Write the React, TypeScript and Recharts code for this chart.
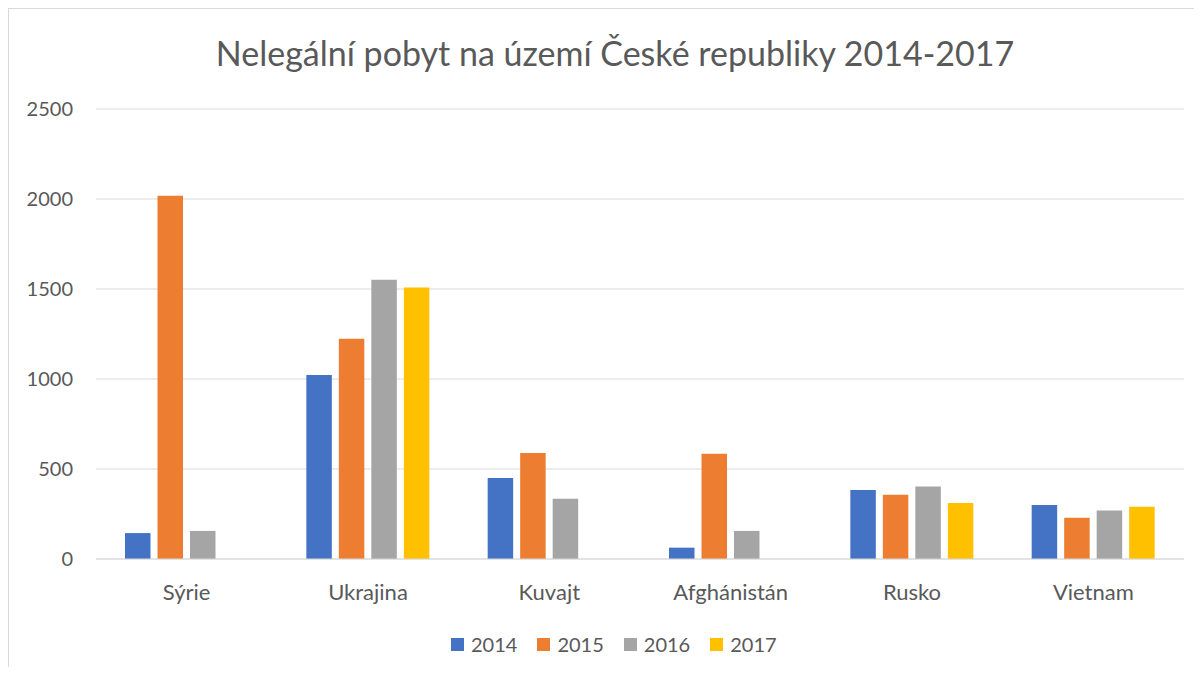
import { BarChart, Bar, XAxis, YAxis, CartesianGrid, Legend } from 'recharts';

const countries = ['Sýrie', 'Ukrajina', 'Kuvajt', 'Afghánistán', 'Rusko', 'Vietnam'];
const years = ['2014', '2015', '2016', '2017'];

const y2014 = [144, 1022, 450, 63, 383, 300];
const y2015 = [2018, 1224, 589, 585, 357, 229];
const y2016 = [156, 1552, 335, 156, 403, 270];
const y2017 = [null, 1509, null, null, 311, 290];

const yTicks = [0, 500, 1000, 1500, 2000, 2500];

// Excel office palette
const colors: Record<string, string> = {
  '2014': '#4472C4',
  '2015': '#ED7D31',
  '2016': '#A5A5A5',
  '2017': '#FFC000',
};

const data = countries.map((name, i) => ({
  name,
  '2014': y2014[i],
  '2015': y2015[i],
  '2016': y2016[i],
  '2017': y2017[i],
}));

const FONT = 'Lato, "Open Sans", sans-serif';
const TEXT = '#595959';
const GRID = '#d9d9d9';

function LegendContent() {
  return (
    <div style={{ height: 30, display: 'flex', alignItems: 'center', marginLeft: 442, fontFamily: FONT }}>
      {years.map((y) => (
        <div key={y} style={{ display: 'flex', alignItems: 'center', marginRight: 20 }}>
          <span style={{ width: 13, height: 13, background: colors[y], display: 'inline-block', marginRight: 7 }} />
          <span style={{ fontSize: 20, color: TEXT, lineHeight: '30px' }}>{y}</span>
        </div>
      ))}
    </div>
  );
}

export default function App() {
  return (
    <div
      style={{
        position: 'relative',
        width: 1194,
        height: 659,
        borderTop: `1px solid ${GRID}`,
        borderLeft: `1px solid ${GRID}`,
        background: '#fff',
        boxSizing: 'border-box',
      }}
    >
      <style>{'body{overflow:hidden}'}</style>
      <div
        style={{
          position: 'absolute',
          left: 0,
          top: 27,
          width: 1212,
          textAlign: 'center',
          fontFamily: FONT,
          fontSize: 34,
          lineHeight: 1,
          color: TEXT,
          whiteSpace: 'nowrap',
        }}
      >
        Nelegální pobyt na území České republiky 2014-2017
      </div>
      <BarChart
        width={1193}
        height={658}
        data={data}
        margin={{ top: 100, right: 18, left: 0, bottom: 8 }}
        barGap={7}
        barSize={25.5}
      >
        <CartesianGrid vertical={false} stroke={GRID} />
        <XAxis
          dataKey="name"
          height={70}
          tickLine={false}
          tickSize={0}
          tickMargin={25}
          axisLine={{ stroke: GRID }}
          tick={{ fontSize: 22, fill: TEXT, fontFamily: FONT }}
          interval={0}
        />
        <YAxis
          width={87}
          domain={[0, 2500]}
          ticks={yTicks}
          axisLine={false}
          tickLine={false}
          tickSize={0}
          tickMargin={23}
          tick={{ fontSize: 20, fill: TEXT, fontFamily: FONT }}
        />
        <Legend verticalAlign="bottom" content={<LegendContent />} />
        {years.map((y) => (
          <Bar key={y} dataKey={y} fill={colors[y]} isAnimationActive={false} />
        ))}
      </BarChart>
    </div>
  );
}
